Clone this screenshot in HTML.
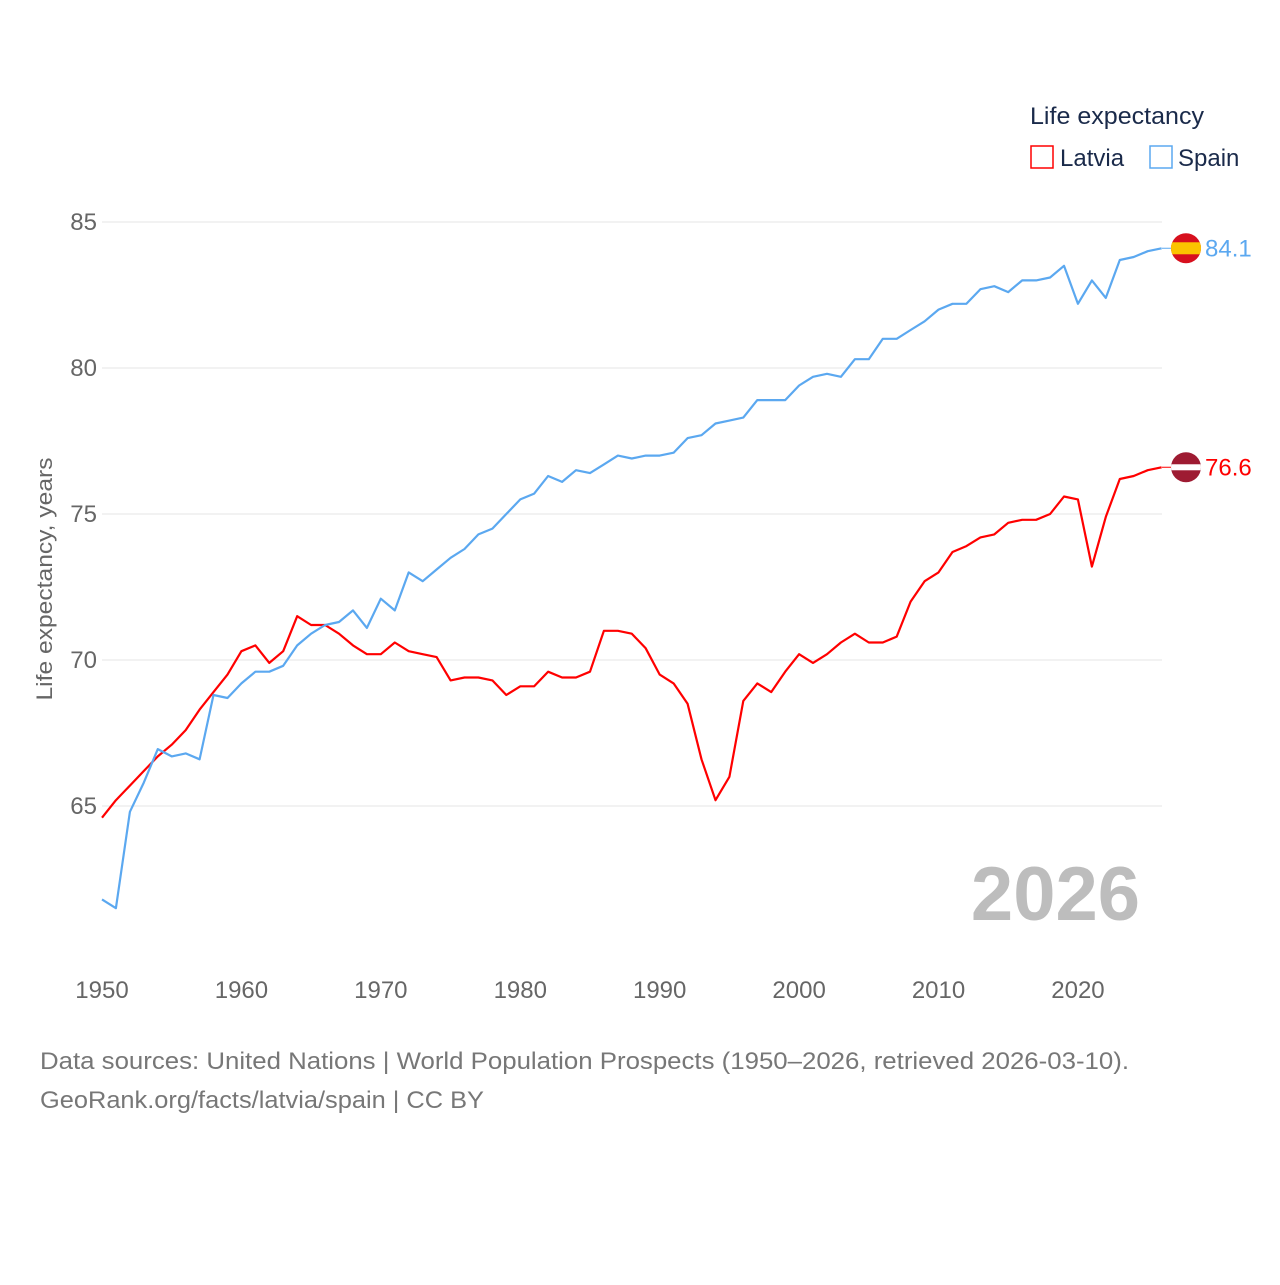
<!DOCTYPE html>
<html><head><meta charset="utf-8"><style>
body{margin:0;background:#fff;}
svg text{font-family:"Liberation Sans",sans-serif;}
</style></head><body>
<svg id="chart" width="1280" height="1280" viewBox="0 0 1280 1280" xmlns="http://www.w3.org/2000/svg">
<g id="grid"></g>
<g id="yticks"></g>
<g id="xticks"></g>
<text x="52" y="579" transform="rotate(-90 52 579)" text-anchor="middle" font-size="22" fill="#666" textLength="243" lengthAdjust="spacingAndGlyphs">Life expectancy, years</text>
<text x="1140" y="920" text-anchor="end" font-size="76" font-weight="bold" fill="#bdbdbd">2026</text>
<g id="series"></g>
<g>
<text x="1030" y="124" font-size="24" fill="#1a2a4a" textLength="174" lengthAdjust="spacingAndGlyphs">Life expectancy</text>
<g><rect x="1031" y="146" width="22" height="22" fill="none" stroke="#ff0000" stroke-width="1.5"/><text x="1060" y="166" font-size="24" fill="#1a2a4a">Latvia</text></g>
<g><rect x="1150" y="146" width="22" height="22" fill="none" stroke="#5ba8f0" stroke-width="1.5"/><text x="1178" y="166" font-size="24" fill="#1a2a4a">Spain</text></g>
</g>
<text x="40" y="1069" font-size="24" fill="#777" textLength="1089" lengthAdjust="spacingAndGlyphs">Data sources: United Nations | World Population Prospects (1950–2026, retrieved 2026-03-10).</text>
<text x="40" y="1108" font-size="24" fill="#777" textLength="444" lengthAdjust="spacingAndGlyphs">GeoRank.org/facts/latvia/spain | CC BY</text>
</svg>
<script>
const years = [];
for (let y = 1950; y <= 2026; y++) years.push(y);
const spain = [61.8,61.5,64.8,65.8,66.95,66.7,66.8,66.6,68.8,68.7,
69.2,69.6,69.6,69.8,70.5,70.9,71.2,71.3,71.7,71.1,
72.1,71.7,73.0,72.7,73.1,73.5,73.8,74.3,74.5,75.0,
75.5,75.7,76.3,76.1,76.5,76.4,76.7,77.0,76.9,77.0,
77.0,77.1,77.6,77.7,78.1,78.2,78.3,78.9,78.9,78.9,
79.4,79.7,79.8,79.7,80.3,80.3,81.0,81.0,81.3,81.6,
82.0,82.2,82.2,82.7,82.8,82.6,83.0,83.0,83.1,83.5,
82.2,83.0,82.4,83.7,83.8,84.0,84.1];
const latvia = [64.6,65.2,65.7,66.2,66.7,67.1,67.6,68.3,68.9,69.5,
70.3,70.5,69.9,70.3,71.5,71.2,71.2,70.9,70.5,70.2,
70.2,70.6,70.3,70.2,70.1,69.3,69.4,69.4,69.3,68.8,
69.1,69.1,69.6,69.4,69.4,69.6,71.0,71.0,70.9,70.4,
69.5,69.2,68.5,66.6,65.2,66.0,68.6,69.2,68.9,69.6,
70.2,69.9,70.2,70.6,70.9,70.6,70.6,70.8,72.0,72.7,
73.0,73.7,73.9,74.2,74.3,74.7,74.8,74.8,75.0,75.6,
75.5,73.2,74.9,76.2,76.3,76.5,76.6];
const yTicks = [65,70,75,80,85];
const xTicks = [1950,1960,1970,1980,1990,2000,2010,2020];

const X = yr => 102 + (yr - 1950) * (1161.6 - 102) / 76;
const Y = v => 222 + (85 - v) * 29.2;
const NS = "http://www.w3.org/2000/svg";
function mk(tag, attrs, parent){const e=document.createElementNS(NS,tag);for(const k in attrs)e.setAttribute(k,attrs[k]);parent.appendChild(e);return e;}

const grid=document.getElementById('grid'), yt=document.getElementById('yticks'), xt=document.getElementById('xticks');
yTicks.forEach(v=>{
  const l=mk('line',{x1:102,x2:1162,y1:Y(v),y2:Y(v),stroke:'#e6e6e6','stroke-width':1},grid);
  
  
  const t=mk('text',{x:97,y:Y(v)+8,'text-anchor':'end','font-size':24,fill:'#666'},yt);
  t.textContent=v;
  
  
});
xTicks.forEach(v=>{
  const t=mk('text',{x:X(v),y:998,'text-anchor':'middle','font-size':24,fill:'#666'},xt);
  t.textContent=v;
  
  
});
const sg=document.getElementById('series');
function line(vals,color,name){
  const d=vals.map((v,i)=>(i?'L':'M')+X(years[i]).toFixed(1)+' '+Y(v).toFixed(1)).join(' ');
  const p=mk('path',{d:d,fill:'none',stroke:color,'stroke-width':2.2,'stroke-linejoin':'round'},sg);
  
  
}
line(latvia,'#ff0000','latvia-line');
line(spain,'#5ba8f0','spain-line');

const sv=spain[spain.length-1], lv=latvia[latvia.length-1];
const cx=1186;
const sf=mk('g',{},sg);


mk('line',{x1:1162,x2:cx,y1:Y(sv),y2:Y(sv),stroke:'#5ba8f0','stroke-width':1},sf);
const cps=mk('clipPath',{id:'cs'},sf);mk('circle',{cx:cx,cy:Y(sv),r:15},cps);
mk('circle',{cx:cx,cy:Y(sv),r:15,fill:'#d7101e'},sf);
mk('rect',{x:cx-15,y:Y(sv)-6,width:30,height:12,fill:'#fbc400','clip-path':'url(#cs)'},sf);
const st=mk('text',{x:1205,y:Y(sv)+8,'font-size':24,fill:'#5ba8f0'},sg);
st.textContent=sv.toFixed(1);



const lf=mk('g',{},sg);


mk('line',{x1:1162,x2:cx,y1:Y(lv),y2:Y(lv),stroke:'#ff0000','stroke-width':1},lf);
const cp=mk('clipPath',{id:'cl'},lf);mk('circle',{cx:cx,cy:Y(lv),r:15},cp);
mk('circle',{cx:cx,cy:Y(lv),r:15,fill:'#9e1b32'},lf);
mk('rect',{x:cx-15,y:Y(lv)-3,width:30,height:6,fill:'#fff','clip-path':'url(#cl)'},lf);
const lt=mk('text',{x:1205,y:Y(lv)+8,'font-size':24,fill:'#ff0000'},sg);
lt.textContent=lv.toFixed(1);


</script>
</body></html>
